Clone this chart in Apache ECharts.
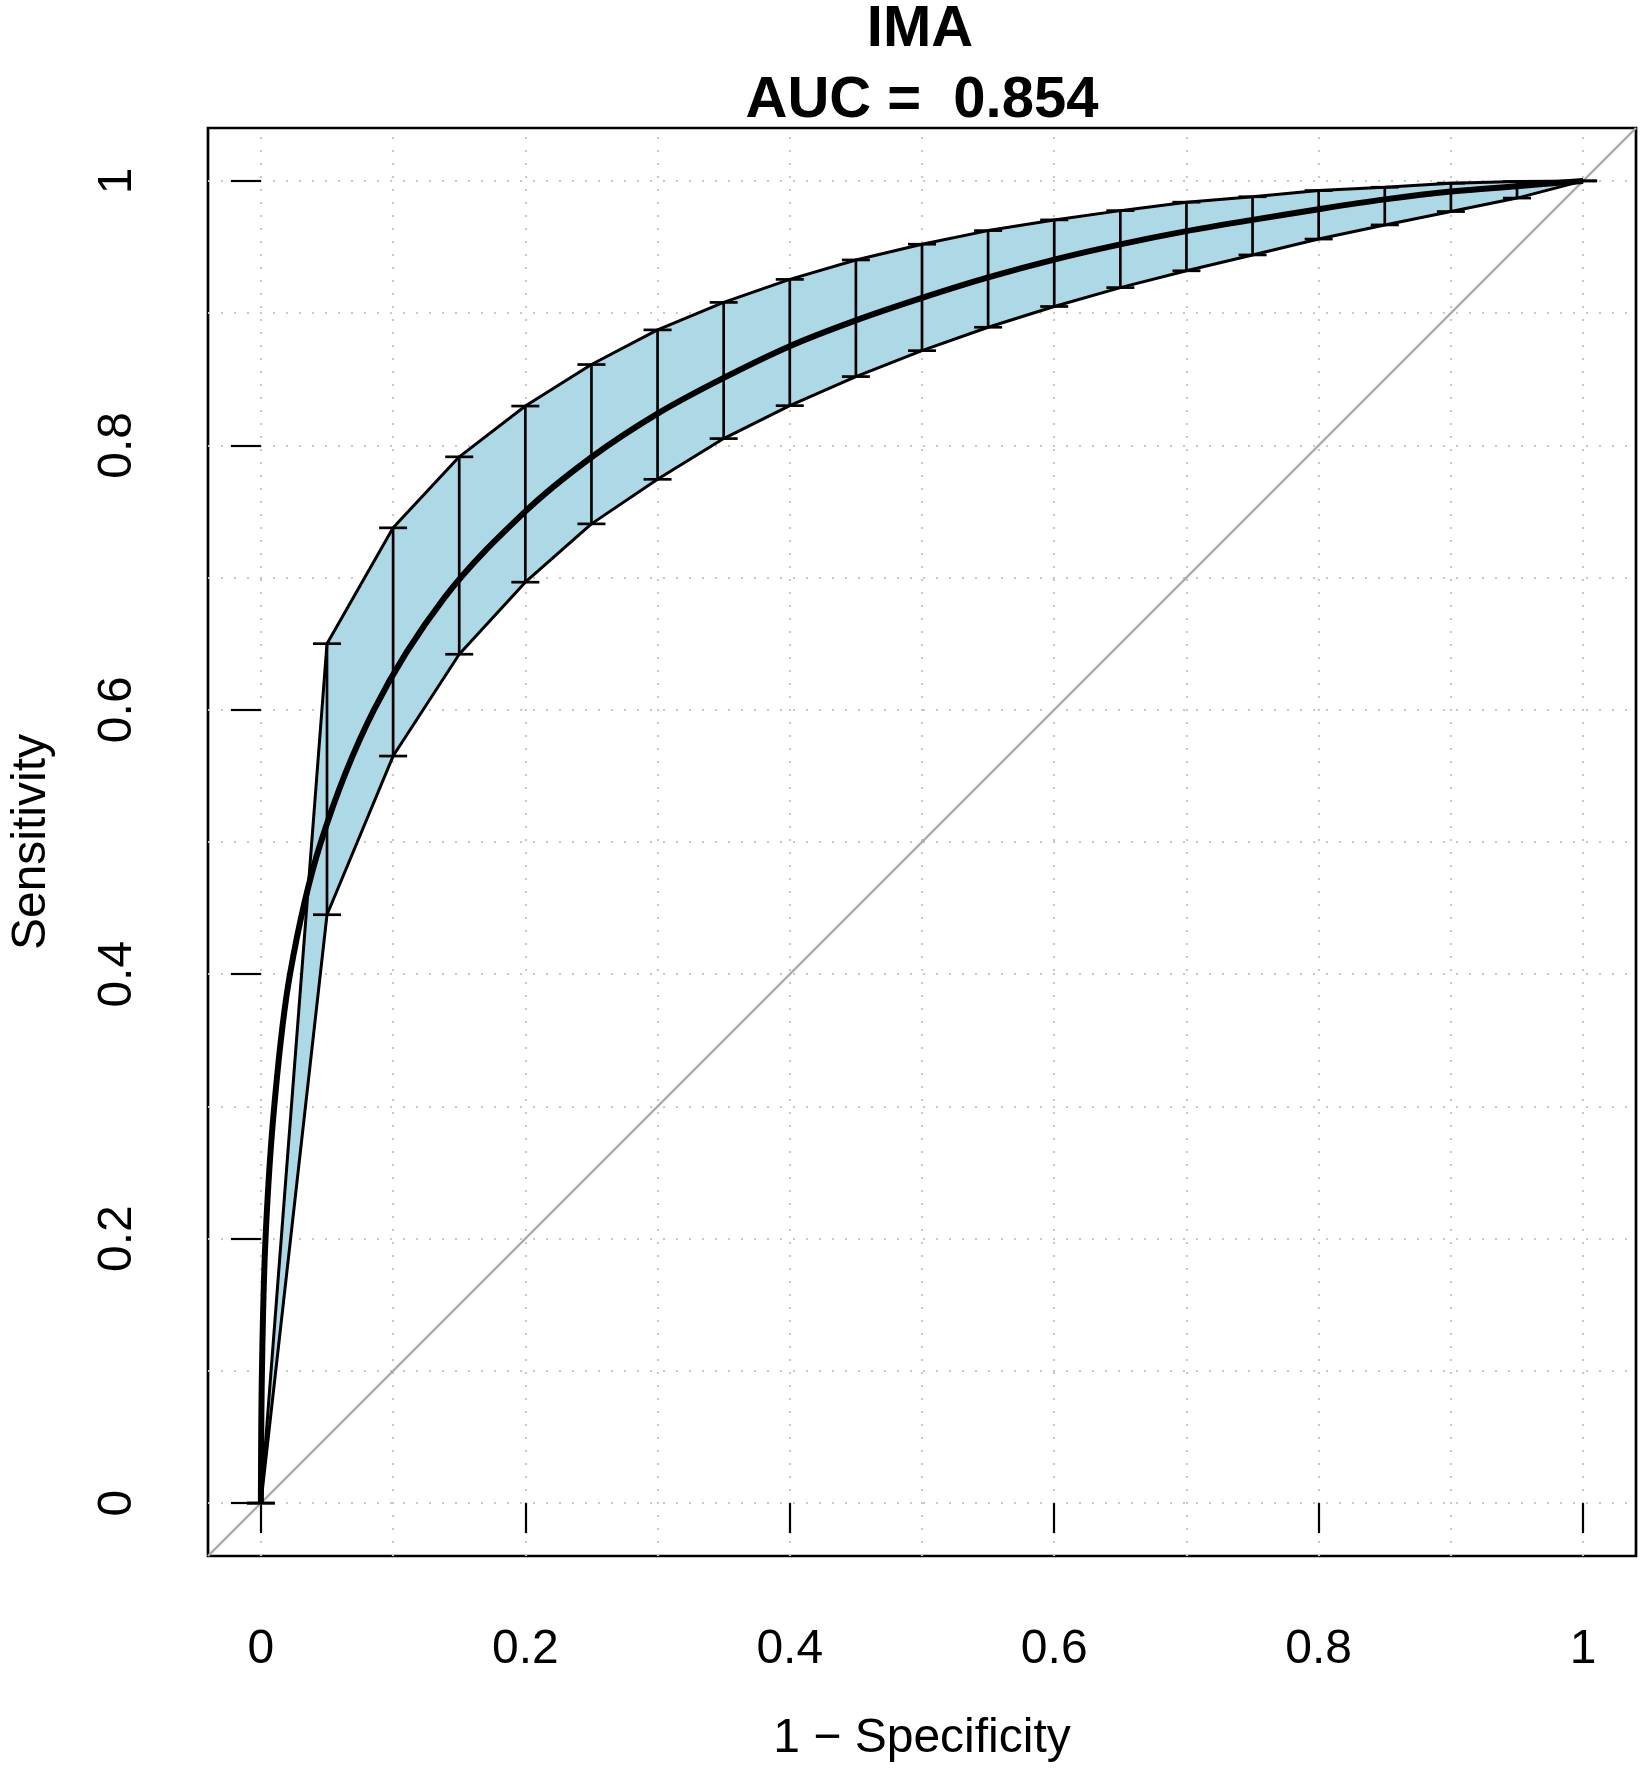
<!DOCTYPE html>
<html>
<head>
<meta charset="utf-8">
<script src="https://cdn.jsdelivr.net/npm/echarts@6.0.0/dist/echarts.min.js"></script>
<style>
  html, body { margin: 0; padding: 0; background: #fff; }
  #chart { width: 1645px; height: 1773px; }
</style>
</head>
<body>
<div id="chart"></div>
<script>
// smoothed ROC curve
var curveFpr = [0, 0.0008, 0.0035, 0.0101, 0.022, 0.0454, 0.0855, 0.139, 0.2, 0.25, 0.3, 0.35, 0.4,
  0.45, 0.5, 0.55, 0.6, 0.65, 0.7, 0.75, 0.8, 0.85, 0.9, 0.95, 1]
var curveTpr = [0, 0.10, 0.20, 0.30, 0.40, 0.50, 0.60, 0.685, 0.750, 0.791, 0.824, 0.851, 0.875,
  0.8945, 0.9115, 0.927, 0.9405, 0.952, 0.962, 0.9705, 0.9786, 0.986, 0.992, 0.996, 1]

// confidence band at every 0.05 of 1 - specificity
var ciFpr = [0, 0.05, 0.1, 0.15, 0.2, 0.25, 0.3, 0.35, 0.4, 0.45, 0.5, 0.55, 0.6, 0.65, 0.7, 0.75, 0.8, 0.85, 0.9, 0.95, 1]
var ciLower = [0, 0.445, 0.565, 0.642, 0.6965, 0.7406, 0.7743, 0.8051, 0.830, 0.852, 0.8716, 0.8893, 0.905, 0.9193,
  0.932, 0.944, 0.956, 0.9667, 0.9768, 0.987, 1]
var ciUpper = [0, 0.650, 0.7376, 0.7913, 0.8297, 0.8611, 0.8873, 0.9081, 0.9255, 0.9402, 0.9521, 0.9624, 0.9705,
  0.9775, 0.9839, 0.988, 0.9927, 0.9952, 0.9983, 0.9995, 1]

var tickVals = [0, 0.2, 0.4, 0.6, 0.8, 1]
var tickLabels = ['0', '0.2', '0.4', '0.6', '0.8', '1']
var gridVals = [0, 0.1, 0.2, 0.3, 0.4, 0.5, 0.6, 0.7, 0.8, 0.9, 1]

var FONT = '"Liberation Sans", Arial, Helvetica, sans-serif'
var BAND = '#add8e6'

function pairs(xs, ys) {
  return xs.map(function (x, i) { return [x, ys[i]] })
}

var gridLines = []
gridVals.forEach(function (v) {
  gridLines.push({ xAxis: v })
  gridLines.push({ yAxis: v })
})

// one band piece per pair of neighbouring CI points
var bandPieces = []
for (var i = 0; i < ciFpr.length - 1; i++) {
  bandPieces.push([ciFpr[i], ciLower[i], ciUpper[i], ciFpr[i + 1], ciLower[i + 1], ciUpper[i + 1]])
}

function tickFmt(v) { return tickLabels[tickVals.indexOf(+(+v).toFixed(2))] }

var chart = echarts.init(document.getElementById('chart'))
chart.setOption({
  animation: false,
  backgroundColor: '#fff',
  grid: {
    left: 208, top: 128, right: 9, bottom: 217,
    show: true, borderColor: '#000', borderWidth: 2.7, backgroundColor: 'transparent'
  },
  xAxis: {
    type: 'value', min: -0.04, max: 1.04,
    axisLine: { show: false },
    splitLine: { show: false },
    axisTick: { show: true, length: 30, customValues: tickVals, lineStyle: { color: '#000', width: 2.2 } },
    axisLabel: {
      customValues: tickVals, margin: 70,
      color: '#000', fontSize: 48, fontFamily: FONT, formatter: tickFmt
    }
  },
  yAxis: {
    type: 'value', min: -0.04, max: 1.04,
    axisLine: { show: false },
    splitLine: { show: false },
    axisTick: { show: true, length: 30, customValues: tickVals, lineStyle: { color: '#000', width: 2.2 } },
    axisLabel: {
      customValues: tickVals, margin: 90, rotate: 90, align: 'center', verticalAlign: 'middle',
      color: '#000', fontSize: 48, fontFamily: FONT, formatter: tickFmt
    }
  },
  graphic: [
    { type: 'text', x: 920, y: 30, z: 100,
      style: { text: 'IMA', fill: '#000', font: 'bold 58px ' + FONT, textAlign: 'center', textVerticalAlign: 'middle' } },
    { type: 'text', x: 922, y: 101, z: 100,
      style: { text: 'AUC =  0.854', fill: '#000', font: 'bold 58px ' + FONT, textAlign: 'center', textVerticalAlign: 'middle' } },
    { type: 'text', x: 922, y: 1739, z: 100,
      style: { text: '1 \u2212 Specificity', fill: '#000', font: '48px ' + FONT, textAlign: 'center', textVerticalAlign: 'middle' } },
    { type: 'text', x: 32, y: 842, rotation: Math.PI / 2, z: 100,
      style: { text: 'Sensitivity', fill: '#000', font: '48px ' + FONT, textAlign: 'center', textVerticalAlign: 'middle' } }
  ],
  series: [
    {
      name: 'diagonal', type: 'line', z: 1, symbol: 'none', silent: true,
      data: [[-0.04, -0.04], [1.04, 1.04]],
      lineStyle: { color: '#aaaaaa', width: 2.4 },
      markLine: {
        silent: true, symbol: ['none', 'none'], z: 0, animation: false,
        label: { show: false },
        lineStyle: { color: '#c8c8c8', width: 2.2, type: [2, 11] },
        data: gridLines
      }
    },
    {
      name: 'band', type: 'custom', z: 2, silent: true,
      data: bandPieces,
      encode: { x: [0, 3], y: [1, 2, 4, 5] },
      renderItem: function (params, api) {
        var a = api.coord([api.value(0), api.value(1)])
        var b = api.coord([api.value(0), api.value(2)])
        var c = api.coord([api.value(3), api.value(5)])
        var d = api.coord([api.value(3), api.value(4)])
        return {
          type: 'polygon',
          shape: { points: [a, b, c, d] },
          style: { fill: BAND, stroke: BAND, lineWidth: 1 }
        }
      }
    },
    {
      name: 'lower', type: 'line', z: 3, symbol: 'none', silent: true,
      data: pairs(ciFpr, ciLower),
      lineStyle: { color: '#000', width: 3 }
    },
    {
      name: 'upper', type: 'line', z: 3, symbol: 'none', silent: true,
      data: pairs(ciFpr, ciUpper),
      lineStyle: { color: '#000', width: 3 }
    },
    {
      name: 'bars', type: 'custom', z: 4, silent: true,
      data: ciFpr.map(function (x, i) { return [x, ciLower[i], ciUpper[i]] }),
      encode: { x: 0, y: [1, 2] },
      renderItem: function (params, api) {
        var x = api.value(0)
        var lo = api.coord([x, api.value(1)])
        var hi = api.coord([x, api.value(2)])
        var w = 14
        var st = { stroke: '#000', lineWidth: 2.7 }
        return {
          type: 'group',
          children: [
            { type: 'line', shape: { x1: lo[0], y1: lo[1], x2: hi[0], y2: hi[1] }, style: st },
            { type: 'line', shape: { x1: lo[0] - w, y1: lo[1], x2: lo[0] + w, y2: lo[1] }, style: st },
            { type: 'line', shape: { x1: hi[0] - w, y1: hi[1], x2: hi[0] + w, y2: hi[1] }, style: st }
          ]
        }
      }
    },
    {
      name: 'roc', type: 'line', z: 5, symbol: 'none', silent: true, smooth: 0.35,
      data: pairs(curveFpr, curveTpr),
      lineStyle: { color: '#000', width: 6 }
    }
  ]
})
</script>
</body>
</html>
